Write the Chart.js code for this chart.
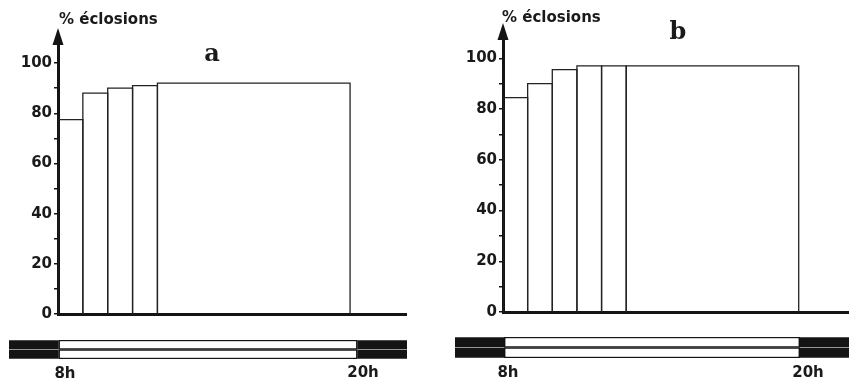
<!DOCTYPE html>
<html lang="fr">
<head>
<meta charset="UTF-8" />
<title>% éclosions</title>
<script src="https://cdn.jsdelivr.net/npm/chart.js"></script>
<style>
  body { margin: 0; background: #fff; width: 849px; height: 381px; position: relative; overflow: hidden;
         font-family: "DejaVu Sans", sans-serif; color: #1a1a1a; }
  .box { position: absolute; }
  .txt { position: absolute; transform: translate(-50%, -50%); white-space: nowrap; font-weight: bold; }
  .left { transform: translate(0, -50%); }
  .ylab { font-size: 15px; }
  .panel { font-family: "DejaVu Serif", serif; font-size: 24px; }
  .hour { font-size: 15px; }
</style>
</head>
<body>
  <div class="box" style="left:0;top:0;width:420px;height:330px"><canvas id="chartA"></canvas></div>
  <div class="box" style="left:0;top:335px;width:420px;height:30px"><canvas id="stripA"></canvas></div>
  <div class="box" style="left:430px;top:0;width:419px;height:330px"><canvas id="chartB"></canvas></div>
  <div class="box" style="left:430px;top:332px;width:419px;height:30px"><canvas id="stripB"></canvas></div>

  <div class="txt left ylab" style="left:59px;top:19px">% éclosions</div>
  <div class="txt panel" style="left:212px;top:52px">a</div>
  <div class="txt left ylab" style="left:502px;top:17px">% éclosions</div>
  <div class="txt panel" style="left:678px;top:30px">b</div>

  <div class="txt hour" style="left:65px;top:373px">8h</div>
  <div class="txt hour" style="left:363px;top:372px">20h</div>
  <div class="txt hour" style="left:508px;top:372px">8h</div>
  <div class="txt hour" style="left:808px;top:372px">20h</div>

<script>
  // labelled y ticks (minor ticks every 10)
  const yTicks = [0, 20, 40, 60, 80, 100];

  // panel a: class edges (hours) and % hatched
  const edgesA = [8, 9, 10, 11, 12, 19.75];
  const valuesA = [77.5, 88, 90, 91, 92];

  // panel b
  const edgesB = [8, 9, 10, 11, 12, 13, 20];
  const valuesB = [84.5, 90, 95.5, 97, 97, 97];

  // photoperiod (hours)
  const nightMorning = [6, 8];
  const lightPhase = [8, 20];
  const nightEvening = [20, 22];

  const ink = '#141414';

  function barSets(edges, values) {
    return values.map((v, i) => ({
      data: [
        { x: edges[i], y: 0 }, { x: edges[i], y: v },
        { x: edges[i + 1], y: v }, { x: edges[i + 1], y: 0 }
      ],
      borderColor: '#222',
      borderWidth: 1.3,
      pointRadius: 0,
      fill: false,
      tension: 0
    }));
  }

  // arrow at the top of the y axis
  const arrowHead = {
    id: 'arrowHead',
    afterDraw(chart) {
      const { ctx, chartArea } = chart;
      const x = chartArea.left, y = chartArea.top;
      ctx.save();
      ctx.fillStyle = ink;
      ctx.beginPath();
      ctx.moveTo(x, y - 15);
      ctx.lineTo(x - 5.5, y + 2);
      ctx.lineTo(x + 5.5, y + 2);
      ctx.closePath();
      ctx.fill();
      ctx.restore();
    }
  };

  function mainOptions(yWidth, pad) {
    return {
      responsive: true,
      maintainAspectRatio: false,
      animation: false,
      layout: { padding: pad },
      plugins: { legend: { display: false }, tooltip: { enabled: false } },
      scales: {
        x: {
          type: 'linear', min: 8, max: 22,
          ticks: { display: false },
          grid: { display: false, drawTicks: false },
          border: { color: ink, width: 3 },
          afterFit: s => { s.height = 0; }
        },
        y: {
          min: 0, max: 108,
          ticks: {
            stepSize: 10, autoSkip: false, padding: 2, color: '#1a1a1a',
            font: { family: 'DejaVu Sans', size: 15, weight: 'bold' },
            callback: v => yTicks.includes(v) ? v : ''
          },
          afterBuildTicks: s => { s.ticks = s.ticks.filter(t => t.value <= 100); },
          grid: { drawOnChartArea: false, drawTicks: true, tickLength: 4, color: ink, lineWidth: 1.5 },
          border: { color: ink, width: 3 },
          afterFit: s => { s.width = yWidth; }
        }
      }
    };
  }

  function stripChart(id, pad) {
    const night = d => ({
      data: [d, d], backgroundColor: ink, borderWidth: 0,
      barPercentage: 0.93, categoryPercentage: 1, grouped: false
    });
    return new Chart(document.getElementById(id), {
      type: 'bar',
      data: {
        labels: ['1', '2'],
        datasets: [
          night(nightMorning),
          {
            data: [lightPhase, lightPhase], backgroundColor: '#fff', borderColor: ink,
            borderWidth: 1.5, borderSkipped: false,
            barPercentage: 1, categoryPercentage: 1, grouped: false
          },
          night(nightEvening)
        ]
      },
      options: {
        indexAxis: 'y',
        responsive: true,
        maintainAspectRatio: false,
        animation: false,
        layout: { padding: pad },
        plugins: { legend: { display: false }, tooltip: { enabled: false } },
        scales: {
          x: { type: 'linear', min: 6, max: 22, display: false },
          y: { display: false }
        }
      }
    });
  }

  new Chart(document.getElementById('chartA'), {
    type: 'line',
    data: { datasets: barSets(edgesA, valuesA) },
    options: mainOptions(58, { top: 43, right: 14, bottom: 16, left: 0 }),
    plugins: [arrowHead]
  });

  new Chart(document.getElementById('chartB'), {
    type: 'line',
    data: { datasets: barSets(edgesB, valuesB) },
    options: mainOptions(73, { top: 38, right: 1, bottom: 18, left: 0 }),
    plugins: [arrowHead]
  });

  stripChart('stripA', { top: 5, right: 13, bottom: 6, left: 9 });
  stripChart('stripB', { top: 5, right: 0, bottom: 4, left: 25 });
</script>
</body>
</html>
